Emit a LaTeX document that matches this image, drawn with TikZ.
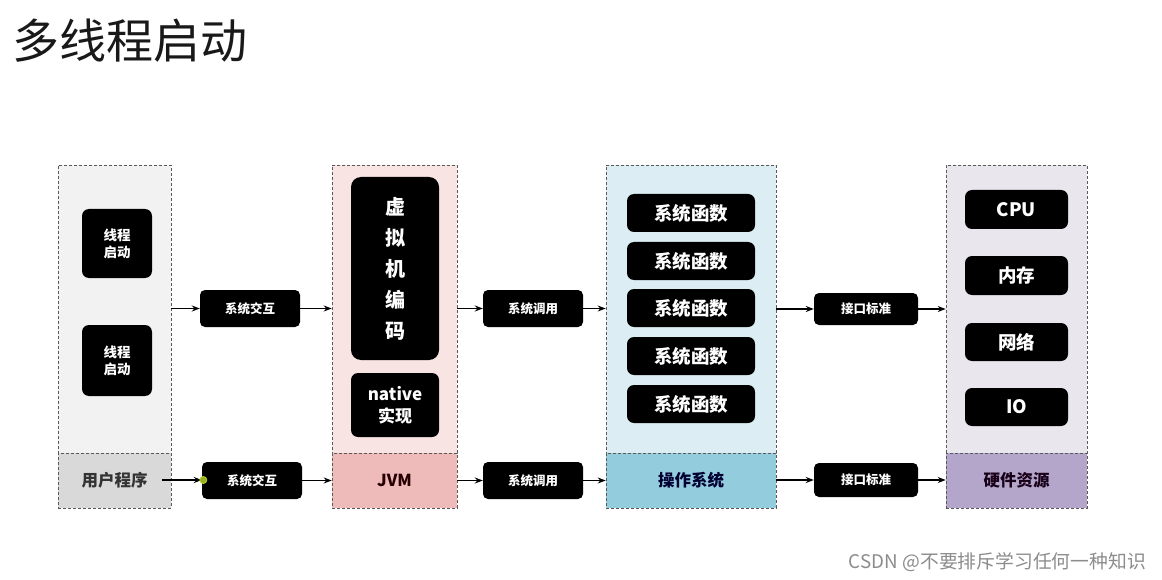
\documentclass[tikz,border=0pt]{standalone}
\usepackage{fontspec}
\setmainfont{Noto Sans CJK SC}
\usetikzlibrary{arrows.meta}
\definecolor{c1top}{HTML}{F2F2F2}
\definecolor{c1bot}{HTML}{D9D9D9}
\definecolor{c2top}{HTML}{F9E4E4}
\definecolor{c2bot}{HTML}{EFBABA}
\definecolor{c3top}{HTML}{DCEEF4}
\definecolor{c3bot}{HTML}{93CDDD}
\definecolor{c4top}{HTML}{E9E6EE}
\definecolor{c4bot}{HTML}{B4A5CA}
\definecolor{dotgreen}{HTML}{9AAD2A}
\newcommand\mkbox[7]{\node[#6, minimum width={(#4-#2)*1pt}, minimum height={(#5-#3)*1pt}] (#1) at ({(#2+#4)/2},{(#3+#5)/2}) {#7};}
\tikzset{
  col/.style={draw=black!65, densely dashed, line width=0.6pt, inner sep=0pt},
  band/.style={draw=black!65, densely dashed, line width=0.6pt, inner sep=0pt, font=\bfseries\fontsize{16.5}{18}\selectfont},
  blk/.style={fill=black, rounded corners=7pt, text=white, inner sep=0pt, align=center, font=\bfseries\fontsize{18.5}{20}\selectfont},
  sblk/.style={blk, rounded corners=5pt, font=\bfseries\fontsize{12.5}{14}\selectfont},
  arr/.style={-{Stealth[length=8pt,width=6pt]}, line width=1.6pt},
}
\begin{document}
\begin{tikzpicture}[x=1pt,y=-1pt]
\useasboundingbox[fill=white] (0,0) rectangle (1162,580);
% title
\node[anchor=west, font=\fontsize{47}{50}\selectfont, text=black!90, inner sep=0pt] (title) at (12,41) {多线程启动};
% columns
\mkbox{c1}{58}{165}{171}{508}{col,fill=c1top}{}
\mkbox{c1b}{58}{453}{171}{508}{band,fill=c1bot,text=black!80}{用户程序}
\mkbox{c2}{332}{165}{457}{508}{col,fill=c2top}{}
\mkbox{c2b}{332}{453}{457}{508}{band,fill=c2bot,text=black!85!red}{JVM}
\mkbox{c3}{606}{165}{776}{508}{col,fill=c3top}{}
\mkbox{c3b}{606}{453}{776}{508}{band,fill=c3bot,text=black!80!blue}{操作系统}
\mkbox{c4}{946}{165}{1087}{508}{col,fill=c4top}{}
\mkbox{c4b}{946}{453}{1087}{508}{band,fill=c4bot,text=black!80!violet}{硬件资源}
% column 1 contents
\mkbox{t1}{82}{209}{152}{278}{blk,font=\bfseries\fontsize{13.5}{17}\selectfont}{线程\\启动}
\mkbox{t2}{82}{325}{152}{396}{blk,font=\bfseries\fontsize{13.5}{17}\selectfont}{线程\\启动}
% column 2 contents
\mkbox{vm}{351}{177}{439}{360}{blk,rounded corners=10pt,font=\bfseries\fontsize{20}{31}\selectfont}{虚\\拟\\机\\编\\码}
\mkbox{nat}{351}{373}{439}{437}{blk,font=\bfseries\fontsize{17}{22}\selectfont}{native\\实现}
% column 3 contents
\mkbox{f1}{627}{194}{755}{232}{blk}{系统函数}
\mkbox{f2}{627}{242}{755}{280}{blk}{系统函数}
\mkbox{f3}{627}{289}{755}{327}{blk}{系统函数}
\mkbox{f4}{627}{337}{755}{375}{blk}{系统函数}
\mkbox{f5}{627}{385}{755}{423}{blk}{系统函数}
% column 4 contents
\mkbox{cpu}{965}{190}{1068}{229}{blk}{CPU}
\mkbox{mem}{965}{256}{1068}{295}{blk}{内存}
\mkbox{net}{965}{323}{1068}{361}{blk}{网络}
\mkbox{io}{965}{388}{1068}{426}{blk}{IO}
% connector boxes, upper row
\mkbox{s1}{200}{290}{300}{327}{sblk}{系统交互}
\mkbox{s2}{483}{290}{583}{327}{sblk}{系统调用}
\mkbox{s3}{814}{293}{918}{325}{sblk}{接口标准}
% connector boxes, lower row
\mkbox{b1}{202}{462}{302}{499}{sblk}{系统交互}
\mkbox{b2}{483}{462}{583}{499}{sblk}{系统调用}
\mkbox{b3}{814}{463}{918}{497}{sblk}{接口标准}
% upper arrows
\draw[arr] (c1.east |- s1.west) -- (s1.west);
\draw[arr] (s1.east) -- (c2.west |- s1.east);
\draw[arr] (c2.east |- s2.west) -- (s2.west);
\draw[arr] (s2.east) -- (c3.west |- s2.east);
\draw[arr] (c3.east |- s3.west) -- (s3.west);
\draw[arr] (s3.east) -- (c4.west |- s3.east);
% lower arrows
\coordinate (ustart) at (162,480);
\draw[arr] (ustart) -- (b1.west |- ustart);
\draw[arr] (b1.east) -- (c2b.west |- b1.east);
\draw[arr] (c2b.east |- b2.west) -- (b2.west);
\draw[arr] (b2.east) -- (c3b.west |- b2.east);
\draw[arr] (c3b.east |- b3.west) -- (b3.west);
\draw[arr] (b3.east) -- (c4b.west |- b3.east);
\fill[dotgreen, draw=yellow!70!green, line width=0.8pt] (b1.west |- ustart) ++(1.5,0) circle (3.5);
% watermark
\node[anchor=east, font=\fontsize{18.8}{20}\selectfont, text=black!45, inner sep=0pt] (wm) at (1146,562) {CSDN @不要排斥学习任何一种知识};
\end{tikzpicture}
\end{document}
